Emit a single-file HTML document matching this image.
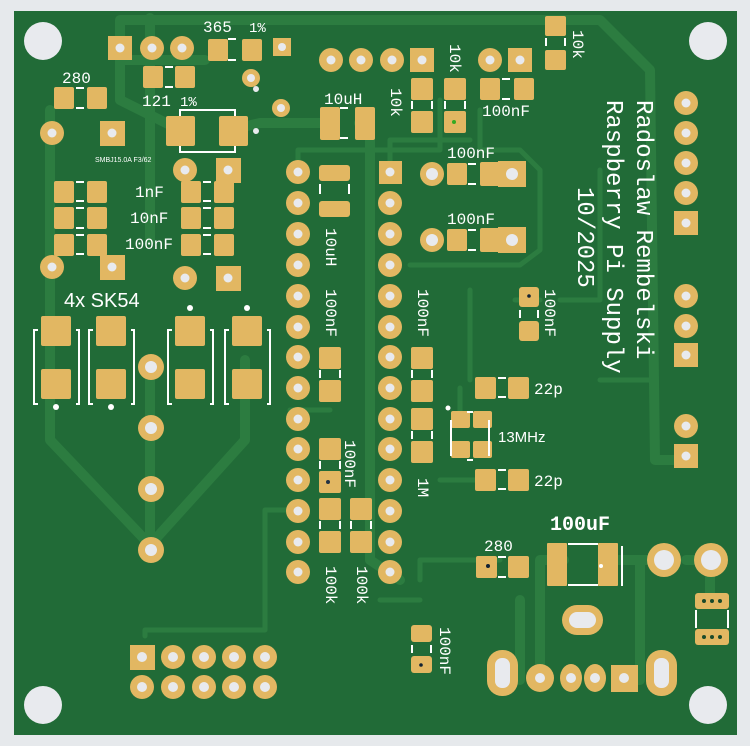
<!DOCTYPE html>
<html><head><meta charset="utf-8"><style>
html,body{margin:0;padding:0;background:#e6e9ec;}
svg{display:block}
.p{fill:#e2b762}
.h{fill:#e8eaee}
.t{fill:none;stroke:#2c7c40;stroke-linejoin:round;stroke-linecap:round}
.s{fill:none;stroke:#fff;stroke-width:2}
.l{fill:#fff;font-family:"Liberation Mono",monospace;font-size:16px}
.b{fill:#fff;font-family:"Liberation Mono",monospace;font-size:24px}
.a{fill:#fff;font-family:"Liberation Sans",sans-serif}
</style></head><body>
<svg width="750" height="746" viewBox="0 0 750 746" xmlns="http://www.w3.org/2000/svg">
<rect x="0" y="0" width="750" height="746" fill="#e6e9ec"/>
<rect x="14" y="11" width="723" height="724" fill="#216b37"/>
<!-- traces -->
<g class="t" stroke-width="10">
<polyline points="120,48 120,20 600,20 650,70 655,460 686,460"/>
<polyline points="150,240 150,18"/>
<polyline points="50,110 50,440 150,545 245,440 245,360"/>
<polyline points="150,367 150,549"/>
<polyline points="180,130 120,100 120,60 205,60"/>
<polyline points="330,123 260,123 230,130"/>
<polyline points="359,123 370,123 370,560 400,580"/>
<polyline points="660,560 640,560 640,680 624,680"/>
<polyline points="540,677 540,560 564,560"/>
<polyline points="608,560 660,560"/>
<polyline points="686,560 710,560 710,600"/>
<polyline points="50,270 50,300"/>
<polyline points="520,600 520,680"/>
</g>
<g class="t" stroke-width="5">
<polyline points="145,636 145,630 265,630 265,510 290,510"/>
<polyline points="298,172 298,150 440,150 440,100"/>
<polyline points="480,110 480,150 520,150 540,170 540,250 520,265 410,265"/>
<polyline points="390,172 390,140 470,140"/>
<polyline points="330,410 290,410"/>
<polyline points="460,388 460,420"/>
<polyline points="440,480 480,480"/>
<polyline points="600,170 600,300 560,300"/>
<polyline points="420,600 380,600"/>
<polyline points="600,380 650,380"/>
<polyline points="470,290 470,380"/>
<polyline points="515,300 540,300"/>
<polyline points="420,580 420,560 500,560"/>
</g>
<!-- mounting holes -->
<circle class="h" cx="43" cy="41" r="19"/>
<circle class="h" cx="708" cy="41" r="19"/>
<circle class="h" cx="43" cy="705" r="19"/>
<circle class="h" cx="708" cy="705" r="19"/>

<!-- top-left area -->
<rect class="p" x="108" y="36" width="24" height="24"/><circle class="h" cx="120" cy="48" r="4.5"/>
<circle class="p" cx="152" cy="48" r="12"/><circle class="h" cx="152" cy="48" r="4.5"/>
<circle class="p" cx="182" cy="48" r="12"/><circle class="h" cx="182" cy="48" r="4.5"/>
<rect class="p" x="208" y="39" width="20" height="22" rx="2"/><rect class="p" x="242" y="39" width="20" height="22" rx="2"/>
<path class="s" d="M228,39h8M228,60h8"/>
<text class="l" x="203" y="32">365</text><text class="l" x="249" y="32" style="font-size:14px">1%</text>
<rect class="p" x="273" y="38" width="18" height="18"/><circle class="h" cx="282" cy="47" r="4"/>
<circle class="p" cx="251" cy="78" r="9"/><circle class="h" cx="251" cy="78" r="4"/>
<circle class="h" cx="256" cy="89" r="3"/>
<circle class="p" cx="281" cy="108" r="9"/><circle class="h" cx="281" cy="108" r="4"/>
<circle class="h" cx="256" cy="131" r="3"/>

<text class="l" x="62" y="83">280</text>
<rect class="p" x="54" y="87" width="20" height="22" rx="2"/><rect class="p" x="87" y="87" width="20" height="22" rx="2"/>
<path class="s" d="M76,88h8M76,108h8"/>
<rect class="p" x="143" y="66" width="20" height="22" rx="2"/><rect class="p" x="175" y="66" width="20" height="22" rx="2"/>
<path class="s" d="M165,67h8M165,87h8"/>
<text class="l" x="142" y="106">121</text><text class="l" x="180" y="106" style="font-size:14px">1%</text>
<path class="s" d="M180,116v-6h55v6M180,146v6h55v-6"/>
<rect class="p" x="166" y="116" width="29" height="30" rx="2"/><rect class="p" x="219" y="116" width="29" height="30" rx="2"/>
<circle class="p" cx="52" cy="133" r="12"/><circle class="h" cx="52" cy="133" r="4.5"/>
<rect class="p" x="100" y="121" width="25" height="25"/><circle class="h" cx="112" cy="133" r="4.5"/>
<text x="95" y="162" fill="#fff" font-family="Liberation Sans,sans-serif" font-size="7">SMBJ15.0A F3/62</text>

<circle class="p" cx="185" cy="170" r="12"/><circle class="h" cx="185" cy="170" r="4.5"/>
<rect class="p" x="216" y="158" width="25" height="25"/><circle class="h" cx="228" cy="170" r="4.5"/>
<g>
<rect class="p" x="54" y="181" width="20" height="22" rx="2"/><rect class="p" x="87" y="181" width="20" height="22" rx="2"/>
<rect class="p" x="54" y="207" width="20" height="22" rx="2"/><rect class="p" x="87" y="207" width="20" height="22" rx="2"/>
<rect class="p" x="54" y="234" width="20" height="22" rx="2"/><rect class="p" x="87" y="234" width="20" height="22" rx="2"/>
<rect class="p" x="181" y="181" width="20" height="22" rx="2"/><rect class="p" x="214" y="181" width="20" height="22" rx="2"/>
<rect class="p" x="181" y="207" width="20" height="22" rx="2"/><rect class="p" x="214" y="207" width="20" height="22" rx="2"/>
<rect class="p" x="181" y="234" width="20" height="22" rx="2"/><rect class="p" x="214" y="234" width="20" height="22" rx="2"/>
<path class="s" d="M76,182h8M76,201h8M76,208h8M76,228h8M76,235h8M76,254h8M203,182h8M203,201h8M203,208h8M203,228h8M203,235h8M203,254h8"/>
</g>
<text class="l" x="135" y="197">1nF</text><text class="l" x="130" y="223">10nF</text><text class="l" x="125" y="249">100nF</text>
<circle class="p" cx="52" cy="267" r="12"/><circle class="h" cx="52" cy="267" r="4.5"/>
<rect class="p" x="100" y="255" width="25" height="25"/><circle class="h" cx="112" cy="267" r="4.5"/>
<circle class="p" cx="185" cy="278" r="12"/><circle class="h" cx="185" cy="278" r="4.5"/>
<rect class="p" x="216" y="266" width="25" height="25"/><circle class="h" cx="228" cy="278" r="4.5"/>

<text class="a" x="64" y="307" font-size="20">4x SK54</text>
<!-- diodes -->
<g>
<rect class="p" x="41" y="316" width="30" height="30" rx="2"/><rect class="p" x="41" y="369" width="30" height="30" rx="2"/>
<rect class="p" x="96" y="316" width="30" height="30" rx="2"/><rect class="p" x="96" y="369" width="30" height="30" rx="2"/>
<rect class="p" x="175" y="316" width="30" height="30" rx="2"/><rect class="p" x="175" y="369" width="30" height="30" rx="2"/>
<rect class="p" x="232" y="316" width="30" height="30" rx="2"/><rect class="p" x="232" y="369" width="30" height="30" rx="2"/>
<path class="s" d="M38,330h-4v74h4M76,330h3v74h-3M93,330h-4v74h4M131,330h3v74h-3M172,330h-4v74h4M210,330h3v74h-3M229,330h-4v74h4M267,330h3v74h-3"/>
<circle fill="#fff" cx="56" cy="407" r="3"/><circle fill="#fff" cx="111" cy="407" r="3"/>
<circle fill="#fff" cx="190" cy="308" r="3"/><circle fill="#fff" cx="247" cy="308" r="3"/>
</g>
<circle class="p" cx="151" cy="367" r="13"/><circle class="h" cx="151" cy="367" r="6"/>
<circle class="p" cx="151" cy="428" r="13"/><circle class="h" cx="151" cy="428" r="6"/>
<circle class="p" cx="151" cy="489" r="13"/><circle class="h" cx="151" cy="489" r="6"/>
<circle class="p" cx="151" cy="550" r="13"/><circle class="h" cx="151" cy="550" r="6"/>

<!-- top middle -->
<circle class="p" cx="331" cy="60" r="12"/><circle class="h" cx="331" cy="60" r="4.5"/>
<circle class="p" cx="361" cy="60" r="12"/><circle class="h" cx="361" cy="60" r="4.5"/>
<circle class="p" cx="392" cy="60" r="12"/><circle class="h" cx="392" cy="60" r="4.5"/>
<rect class="p" x="410" y="48" width="24" height="24"/><circle class="h" cx="422" cy="60" r="4.5"/>
<text class="l" x="324" y="104">10uH</text>
<rect class="p" x="320" y="107" width="20" height="33" rx="2"/><rect class="p" x="355" y="107" width="20" height="33" rx="2"/>
<path class="s" d="M340,108h8M340,138h8"/>
<rect class="p" x="411" y="78" width="22" height="22" rx="2"/><rect class="p" x="411" y="111" width="22" height="22" rx="2"/>
<rect class="p" x="444" y="78" width="22" height="22" rx="2"/><rect class="p" x="444" y="111" width="22" height="22" rx="2"/>
<path class="s" d="M412,101v8M432,101v8M445,101v8M465,101v8"/>
<circle fill="#3a2" cx="454" cy="122" r="2"/>
<text class="l" transform="translate(391,88) rotate(90)">10k</text>
<text class="l" transform="translate(450,44) rotate(90)">10k</text>
<circle class="p" cx="490" cy="60" r="12"/><circle class="h" cx="490" cy="60" r="4.5"/>
<rect class="p" x="508" y="48" width="24" height="24"/><circle class="h" cx="520" cy="60" r="4.5"/>
<rect class="p" x="480" y="78" width="20" height="22" rx="2"/><rect class="p" x="514" y="78" width="20" height="22" rx="2"/>
<path class="s" d="M502,79h8M502,99h8"/>
<text class="l" x="482" y="116">100nF</text>
<rect class="p" x="545" y="16" width="21" height="20" rx="2"/><rect class="p" x="545" y="50" width="21" height="20" rx="2"/>
<path class="s" d="M546,38v8M565,38v8"/>
<text class="l" transform="translate(573,30) rotate(90)">10k</text>

<text class="l" x="447" y="158">100nF</text>
<circle class="p" cx="432" cy="174" r="12"/><circle class="h" cx="432" cy="174" r="6"/>
<rect class="p" x="447" y="163" width="20" height="22" rx="2"/><rect class="p" x="480" y="162" width="22" height="24" rx="2"/>
<rect class="p" x="498" y="161" width="28" height="26"/><circle class="h" cx="512" cy="174" r="6"/>
<path class="s" d="M468,164h8M468,184h8"/>
<text class="l" x="447" y="224">100nF</text>
<circle class="p" cx="432" cy="240" r="12"/><circle class="h" cx="432" cy="240" r="6"/>
<rect class="p" x="447" y="229" width="20" height="22" rx="2"/><rect class="p" x="480" y="228" width="22" height="24" rx="2"/>
<rect class="p" x="498" y="227" width="28" height="26"/><circle class="h" cx="512" cy="240" r="6"/>
<path class="s" d="M468,230h8M468,250h8"/>

<!-- 10uH vertical -->
<rect class="p" x="319" y="165" width="31" height="16" rx="3"/><rect class="p" x="319" y="201" width="31" height="16" rx="3"/>
<path class="s" d="M320,184v10M349,184v10"/>
<text class="l" transform="translate(326,228) rotate(90)">10uH</text>

<!-- DIP -->
<g>
<circle class="p" cx="298" cy="172" r="12"/><circle class="p" cx="298" cy="203" r="12"/><circle class="p" cx="298" cy="234" r="12"/><circle class="p" cx="298" cy="265" r="12"/><circle class="p" cx="298" cy="296" r="12"/><circle class="p" cx="298" cy="327" r="12"/><circle class="p" cx="298" cy="357" r="12"/><circle class="p" cx="298" cy="388" r="12"/><circle class="p" cx="298" cy="419" r="12"/><circle class="p" cx="298" cy="449" r="12"/><circle class="p" cx="298" cy="480" r="12"/><circle class="p" cx="298" cy="511" r="12"/><circle class="p" cx="298" cy="542" r="12"/><circle class="p" cx="298" cy="572" r="12"/>
<rect class="p" x="379" y="161" width="23" height="23"/>
<circle class="p" cx="390" cy="203" r="12"/><circle class="p" cx="390" cy="234" r="12"/><circle class="p" cx="390" cy="265" r="12"/><circle class="p" cx="390" cy="296" r="12"/><circle class="p" cx="390" cy="327" r="12"/><circle class="p" cx="390" cy="357" r="12"/><circle class="p" cx="390" cy="388" r="12"/><circle class="p" cx="390" cy="419" r="12"/><circle class="p" cx="390" cy="449" r="12"/><circle class="p" cx="390" cy="480" r="12"/><circle class="p" cx="390" cy="511" r="12"/><circle class="p" cx="390" cy="542" r="12"/><circle class="p" cx="390" cy="572" r="12"/>
<g class="h">
<circle cx="298" cy="172" r="4.5"/><circle cx="298" cy="203" r="4.5"/><circle cx="298" cy="234" r="4.5"/><circle cx="298" cy="265" r="4.5"/><circle cx="298" cy="296" r="4.5"/><circle cx="298" cy="327" r="4.5"/><circle cx="298" cy="357" r="4.5"/><circle cx="298" cy="388" r="4.5"/><circle cx="298" cy="419" r="4.5"/><circle cx="298" cy="449" r="4.5"/><circle cx="298" cy="480" r="4.5"/><circle cx="298" cy="511" r="4.5"/><circle cx="298" cy="542" r="4.5"/><circle cx="298" cy="572" r="4.5"/>
<circle cx="390" cy="172" r="4.5"/><circle cx="390" cy="203" r="4.5"/><circle cx="390" cy="234" r="4.5"/><circle cx="390" cy="265" r="4.5"/><circle cx="390" cy="296" r="4.5"/><circle cx="390" cy="327" r="4.5"/><circle cx="390" cy="357" r="4.5"/><circle cx="390" cy="388" r="4.5"/><circle cx="390" cy="419" r="4.5"/><circle cx="390" cy="449" r="4.5"/><circle cx="390" cy="480" r="4.5"/><circle cx="390" cy="511" r="4.5"/><circle cx="390" cy="542" r="4.5"/><circle cx="390" cy="572" r="4.5"/>
</g>
</g>
<text class="l" transform="translate(326,289) rotate(90)">100nF</text>
<text class="l" transform="translate(418,289) rotate(90)">100nF</text>
<rect class="p" x="319" y="347" width="22" height="22" rx="2"/><rect class="p" x="319" y="380" width="22" height="22" rx="2"/>
<path class="s" d="M320,370v8M340,370v8"/>
<rect class="p" x="411" y="347" width="22" height="22" rx="2"/><rect class="p" x="411" y="380" width="22" height="22" rx="2"/>
<rect class="p" x="411" y="408" width="22" height="22" rx="2"/><rect class="p" x="411" y="441" width="22" height="22" rx="2"/>
<path class="s" d="M412,370v8M432,370v8M412,431v8M432,431v8"/>
<text class="l" transform="translate(418,478) rotate(90)">1M</text>
<rect class="p" x="319" y="438" width="22" height="22" rx="2"/><rect class="p" x="319" y="471" width="22" height="22" rx="2"/>
<path class="s" d="M320,461v8M340,461v8"/>
<circle fill="#234" cx="328" cy="482" r="2"/>
<text class="l" transform="translate(345,440) rotate(90)">100nF</text>
<rect class="p" x="319" y="498" width="22" height="22" rx="2"/><rect class="p" x="319" y="531" width="22" height="22" rx="2"/>
<rect class="p" x="350" y="498" width="22" height="22" rx="2"/><rect class="p" x="350" y="531" width="22" height="22" rx="2"/>
<path class="s" d="M320,521v8M340,521v8M351,521v8M371,521v8"/>
<text class="l" transform="translate(326,566) rotate(90)">100k</text>
<text class="l" transform="translate(357,566) rotate(90)">100k</text>

<!-- right-mid -->
<rect class="p" x="519" y="287" width="20" height="20" rx="3"/><rect class="p" x="519" y="321" width="20" height="20" rx="3"/>
<path class="s" d="M520,310v8M538,310v8"/>
<circle fill="#123" cx="529" cy="296" r="1.8"/>
<text class="l" transform="translate(545,289) rotate(90)">100nF</text>
<rect class="p" x="475" y="377" width="21" height="22" rx="2"/><rect class="p" x="508" y="377" width="21" height="22" rx="2"/>
<path class="s" d="M498,378h8M498,397h8"/>
<text class="l" x="534" y="394">22p</text>
<rect class="p" x="451" y="411" width="19" height="17" rx="2"/><rect class="p" x="473" y="411" width="19" height="17" rx="2"/>
<rect class="p" x="451" y="441" width="19" height="17" rx="2"/><rect class="p" x="473" y="441" width="19" height="17" rx="2"/>
<path class="s" d="M451,420v36M489,420v36M467,412h6M467,460h6"/>
<circle fill="#fff" cx="448" cy="408" r="2.5"/>
<text class="a" x="498" y="442" font-size="15">13MHz</text>
<rect class="p" x="475" y="469" width="21" height="22" rx="2"/><rect class="p" x="508" y="469" width="21" height="22" rx="2"/>
<path class="s" d="M498,470h8M498,489h8"/>
<text class="l" x="534" y="486">22p</text>

<!-- rotated title -->
<text class="b" transform="translate(637,100) rotate(90)">Radoslaw Rembelski</text>
<text class="b" transform="translate(607,100) rotate(90)">Raspberry Pi Supply</text>
<text class="b" transform="translate(578,187) rotate(90)">10/2025</text>

<!-- right connectors -->
<g>
<circle class="p" cx="686" cy="103" r="12"/><circle class="p" cx="686" cy="133" r="12"/><circle class="p" cx="686" cy="163" r="12"/><circle class="p" cx="686" cy="193" r="12"/>
<rect class="p" x="674" y="211" width="24" height="24"/>
<circle class="p" cx="686" cy="296" r="12"/><circle class="p" cx="686" cy="326" r="12"/>
<rect class="p" x="674" y="343" width="24" height="24"/>
<circle class="p" cx="686" cy="426" r="12"/>
<rect class="p" x="674" y="444" width="24" height="24"/>
<g class="h"><circle cx="686" cy="103" r="4.5"/><circle cx="686" cy="133" r="4.5"/><circle cx="686" cy="163" r="4.5"/><circle cx="686" cy="193" r="4.5"/><circle cx="686" cy="223" r="4.5"/><circle cx="686" cy="296" r="4.5"/><circle cx="686" cy="326" r="4.5"/><circle cx="686" cy="355" r="4.5"/><circle cx="686" cy="426" r="4.5"/><circle cx="686" cy="456" r="4.5"/></g>
</g>

<!-- bottom right -->
<text class="l" x="484" y="551">280</text>
<rect class="p" x="476" y="556" width="21" height="22" rx="2"/><rect class="p" x="508" y="556" width="21" height="22" rx="2"/>
<path class="s" d="M498,557h8M498,577h8"/>
<circle fill="#123" cx="488" cy="566" r="2"/>
<text class="l" x="550" y="530" style="font-size:20px;font-weight:bold">100uF</text>
<rect class="p" x="547" y="543" width="20" height="43" rx="1"/><rect class="p" x="598" y="543" width="20" height="43" rx="1"/>
<path class="s" d="M568,544h30M568,585h30M622,546v40"/>
<circle fill="#fff" cx="601" cy="566" r="2"/>
<circle class="p" cx="664" cy="560" r="17"/><circle class="h" cx="664" cy="560" r="10"/>
<circle class="p" cx="711" cy="560" r="17"/><circle class="h" cx="711" cy="560" r="10"/>
<rect class="p" x="562" y="605" width="41" height="30" rx="15"/><rect class="h" x="569" y="612" width="27" height="16" rx="8"/>
<rect class="p" x="487" y="650" width="31" height="46" rx="15"/><rect class="h" x="495" y="658" width="15" height="30" rx="7"/>
<rect class="p" x="646" y="650" width="31" height="46" rx="15"/><rect class="h" x="654" y="658" width="15" height="30" rx="7"/>
<circle class="p" cx="540" cy="678" r="14"/><circle class="h" cx="540" cy="678" r="5"/>
<ellipse class="p" cx="571" cy="678" rx="11" ry="14"/><circle class="h" cx="571" cy="678" r="5"/>
<ellipse class="p" cx="595" cy="678" rx="11" ry="14"/><circle class="h" cx="595" cy="678" r="5"/>
<rect class="p" x="611" y="665" width="27" height="27"/><circle class="h" cx="624" cy="678" r="5"/>
<rect class="p" x="695" y="593" width="34" height="16" rx="3"/><rect class="p" x="695" y="629" width="34" height="16" rx="3"/>
<path class="s" d="M696,610v18M728,610v18"/>
<g fill="#1a4a2a"><circle cx="704" cy="601" r="2"/><circle cx="712" cy="601" r="2"/><circle cx="720" cy="601" r="2"/><circle cx="704" cy="637" r="2"/><circle cx="712" cy="637" r="2"/><circle cx="720" cy="637" r="2"/></g>

<!-- bottom 100nF -->
<rect class="p" x="411" y="625" width="21" height="17" rx="3"/><rect class="p" x="411" y="656" width="21" height="17" rx="3"/>
<path class="s" d="M412,645v8M431,645v8"/>
<circle fill="#123" cx="421" cy="665" r="1.8"/>
<text class="l" transform="translate(440,627) rotate(90)">100nF</text>

<!-- bottom header -->
<rect class="p" x="130" y="645" width="25" height="25"/>
<circle class="p" cx="173" cy="657" r="12"/><circle class="p" cx="204" cy="657" r="12"/><circle class="p" cx="234" cy="657" r="12"/><circle class="p" cx="265" cy="657" r="12"/>
<circle class="p" cx="142" cy="687" r="12"/><circle class="p" cx="173" cy="687" r="12"/><circle class="p" cx="204" cy="687" r="12"/><circle class="p" cx="234" cy="687" r="12"/><circle class="p" cx="265" cy="687" r="12"/>
<g class="h"><circle cx="142" cy="657" r="5"/><circle cx="173" cy="657" r="5"/><circle cx="204" cy="657" r="5"/><circle cx="234" cy="657" r="5"/><circle cx="265" cy="657" r="5"/><circle cx="142" cy="687" r="5"/><circle cx="173" cy="687" r="5"/><circle cx="204" cy="687" r="5"/><circle cx="234" cy="687" r="5"/><circle cx="265" cy="687" r="5"/></g>
</svg>
</body></html>
